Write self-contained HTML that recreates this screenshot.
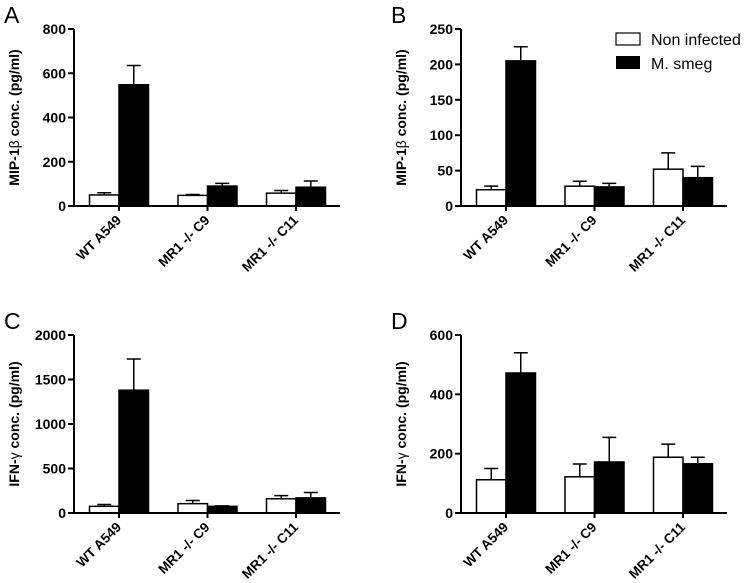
<!DOCTYPE html>
<html><head><meta charset="utf-8"><style>
body{margin:0;background:#fff;}
svg{display:block;font-family:"Liberation Sans",Arial,sans-serif;}
</style></head><body>
<svg id="fig" width="750" height="583" viewBox="0 0 750 583"></svg>
<script>
const categories=["WT A549","MR1 -/- C9","MR1 -/- C11"];
const aNon=[50,48,58], aNonErr=[60,52,70], aSmeg=[548,90,85], aSmegErr=[635,102,113];
const bNon=[23,28,52], bNonErr=[28,35,75], bSmeg=[205,27,40], bSmegErr=[225,32,56];
const cNon=[75,105,160], cNonErr=[95,140,195], cSmeg=[1380,75,170], cSmegErr=[1730,80,230];
const dNon=[112,122,188], dNonErr=[150,165,232], dSmeg=[472,172,166], dSmegErr=[540,255,188];
const aTicks=[0,200,400,600,800], bTicks=[0,50,100,150,200,250], cTicks=[0,500,1000,1500,2000], dTicks=[0,200,400,600];

const NS="http://www.w3.org/2000/svg";
const svg=document.getElementById('fig');
function mk(tag,attrs,parent,text){const e=document.createElementNS(NS,tag);for(const k in attrs)e.setAttribute(k,attrs[k]);if(text!==undefined)e.textContent=text;(parent||svg).appendChild(e);return e;}

function panel(id,letter,ox,top,bottom,ticks,non,nonErr,smeg,smegErr,title){
  const g=mk('g',{});
  
  
  const max=ticks[ticks.length-1];
  const y=v=>bottom-(v/max)*(bottom-top);
  const groupX=i=>ox+45+i*88.5;
  const bw=29.5;
  const L=mk('text',{x:ox-70,y:top-6,'font-size':23,fill:'#000'},g,letter);
  
  
  for(let i=0;i<categories.length;i++){
    const cx=groupX(i);
    const series=[[non[i],nonErr[i],'#fff',cx-bw,'non-infected'],[smeg[i],smegErr[i],'#000',cx,'m-smeg']];
    series.forEach(s=>{
      const bx=s[3], mid=bx+bw/2;
      const er=mk('path',{d:`M${mid} ${y(s[0])}V${y(s[1])}M${mid-7} ${y(s[1])}H${mid+7}`,stroke:'#000','stroke-width':1.5,fill:'none'},g);
      
      
      const r=mk('rect',{x:bx,y:y(s[0]),width:bw,height:bottom-y(s[0]),fill:s[2],stroke:'#000','stroke-width':1.5},g);
      
      
    });
    const tk=mk('line',{x1:cx,x2:cx,y1:bottom,y2:bottom+5,stroke:'#000','stroke-width':2},g);
    
    
    const lb=mk('text',{x:cx+3,y:bottom+15,'font-size':13.5,'font-weight':'bold','text-anchor':'end',transform:`rotate(-45 ${cx+3} ${bottom+15})`},g,categories[i]);
    
    
  }
  const ax=mk('path',{d:`M${ox} ${top}V${bottom}H${ox+266}`,stroke:'#000','stroke-width':2,fill:'none'},g);
  
  
  ticks.forEach(t=>{
    const tl=mk('line',{x1:ox-6,x2:ox,y1:y(t),y2:y(t),stroke:'#000','stroke-width':2},g);
    
    
    const tt=mk('text',{x:ox-8,y:y(t)+5,'font-size':14,'font-weight':'bold','text-anchor':'end'},g,t);
    
    
  });
  const my=(top+bottom)/2, tx=ox-55;
  const yt=mk('text',{x:tx,y:my,'font-size':14,'font-weight':'bold','text-anchor':'middle',transform:`rotate(-90 ${tx} ${my})`},g);
  
  
  mk('tspan',{},yt,title[0]);
  mk('tspan',{'font-weight':'normal'},yt,title[1]);
  mk('tspan',{},yt,' conc. (pg/ml)');
}
panel('a','A',74,29,206,aTicks,aNon,aNonErr,aSmeg,aSmegErr,['MIP-1','β']);
panel('b','B',461,29,206,bTicks,bNon,bNonErr,bSmeg,bSmegErr,['MIP-1','β']);
panel('c','C',74,335,513,cTicks,cNon,cNonErr,cSmeg,cSmegErr,['IFN-','γ']);
panel('d','D',461,335,513,dTicks,dNon,dNonErr,dSmeg,dSmegErr,['IFN-','γ']);

const lg=mk('g',{});


const l1=mk('rect',{x:616,y:33,width:24,height:12,fill:'#fff',stroke:'#000','stroke-width':1.2},lg);


const t1=mk('text',{x:651,y:45,'font-size':16},lg,'Non infected');


const l2=mk('rect',{x:616,y:56,width:24,height:13,fill:'#000'},lg);


const t2=mk('text',{x:651,y:69,'font-size':16},lg,'M. smeg');


</script>
</body></html>
